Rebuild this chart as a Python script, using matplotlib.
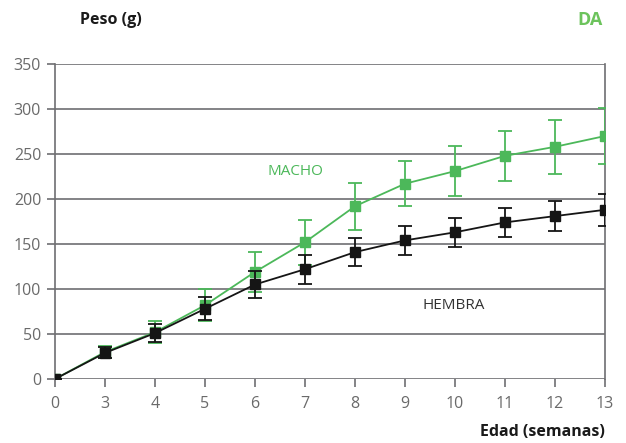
import numpy as np
import matplotlib.pyplot as plt

plt.rcParams['font.family'] = ['Open Sans', 'DejaVu Sans']

# datos
semanas = ['0', '3', '4', '5', '6', '7', '8', '9', '10', '11', '12', '13']
macho = [0, 30, 52, 82, 119, 152, 192, 217, 231, 248, 258, 270]
macho_err = [0, 7, 12, 18, 22, 25, 26, 25, 28, 28, 30, 31]
hembra = [0, 29, 51, 78, 105, 122, 141, 154, 163, 174, 181, 188]
hembra_err = [0, 6, 10, 13, 15, 16, 16, 16, 16, 16, 17, 18]

verde = '#4cb85a'
negro = '#151515'
gris = '#6e6e72'

fig = plt.figure(figsize=(6.26, 4.43), dpi=100)
ax = fig.add_axes([0.0879, 0.1445, 0.8786, 0.711])

x = np.arange(len(semanas))

ax.errorbar(x, macho, yerr=macho_err, color=verde, marker='s', markersize=7.5,
            linewidth=1.3, capsize=5, elinewidth=1.3, capthick=1.3, zorder=3)
ax.errorbar(x, hembra, yerr=hembra_err, color=negro, marker='s', markersize=7.5,
            linewidth=1.3, capsize=5, elinewidth=1.3, capthick=1.3, zorder=4)

ax.set_xlim(0, len(semanas) - 1)
ax.set_ylim(0, 350)
ax.set_xticks(x)
ax.set_xticklabels(semanas)
ax.set_yticks(np.arange(0, 351, 50))

ax.grid(axis='y', color=gris, linewidth=1.2)
ax.set_axisbelow(True)
for s in ['top', 'bottom']:
    ax.spines[s].set_visible(False)
for s in ['left', 'right']:
    ax.spines[s].set_color(gris)
    ax.spines[s].set_linewidth(1.2)

ax.tick_params(axis='both', colors=gris, labelcolor='#6a6a6a', labelsize=11.5,
               length=6, width=1.2)
ax.tick_params(axis='x', pad=6)
ax.tick_params(axis='y', pad=4)

ax.text(4.8, 231, 'MACHO', color=verde, fontsize=11, ha='center', va='center')
ax.text(7.98, 82, 'HEMBRA', color='#333333', fontsize=11, ha='center', va='center')

fig.text(0.128, 0.955, 'Peso (g)', fontsize=11.5, fontweight='bold', color='#1a1a1a',
         ha='left', va='center')
fig.text(0.962, 0.955, 'DA', fontsize=13, fontweight='bold', color='#6cc35c',
         ha='right', va='center')
fig.text(0.966, 0.025, 'Edad (semanas)', fontsize=11.5, fontweight='bold', color='#1a1a1a',
         ha='right', va='center')

fig.savefig('out.png', dpi=100)
